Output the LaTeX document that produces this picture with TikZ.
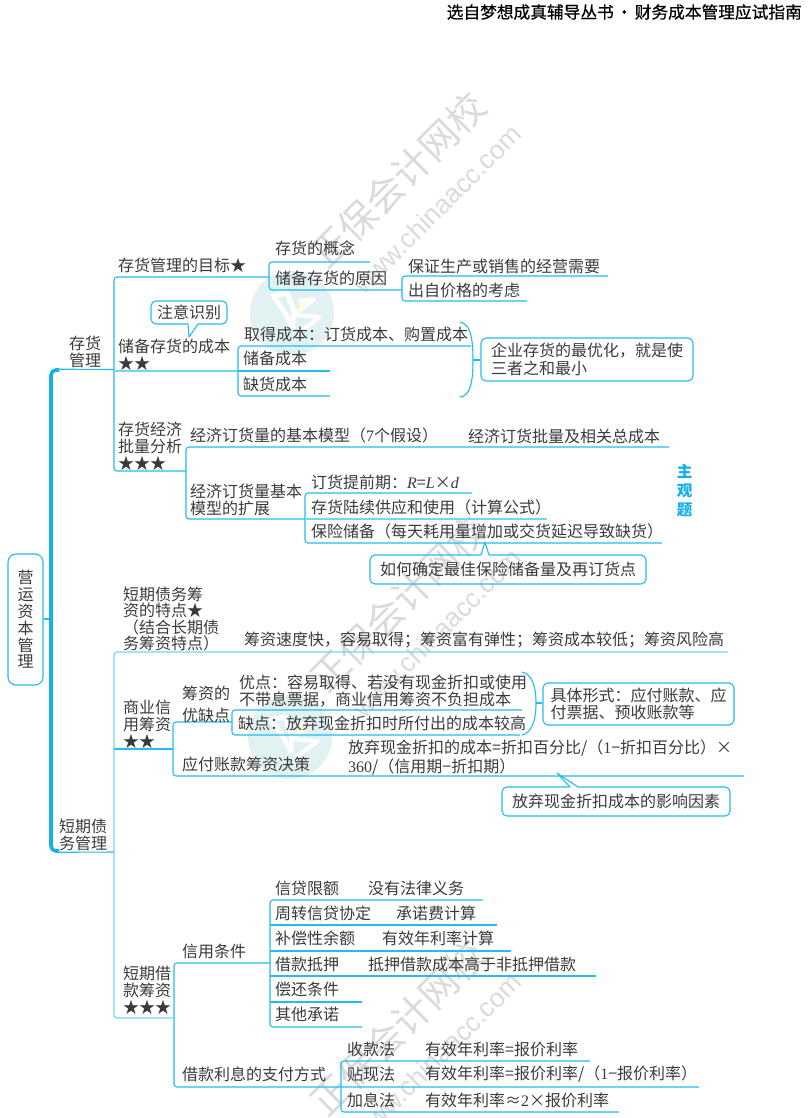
\documentclass[tikz,border=0pt]{standalone}
\usepackage{fontspec}
\setmainfont{Noto Sans CJK SC}
\newfontfamily\lat{Liberation Serif}
\newfontfamily\wmlat{Liberation Sans}
\newfontfamily\headf[FakeBold=0.6]{Noto Sans CJK SC}
\definecolor{ln}{HTML}{22BDEE}
\definecolor{lnl}{HTML}{70D7F6}
\definecolor{tx}{HTML}{3A3A3A}
\definecolor{wm}{HTML}{DADADA}
\definecolor{logoc}{HTML}{E2F1F1}
\definecolor{cy}{HTML}{10B0EC}
\newcommand{\num}[1]{{\lat #1}}
\newcommand{\logoat}[2]{%
  \fill[logoc] (#1,#2) circle (42);
  \begin{scope}[shift={(#1,#2)}]
    \draw[white,line width=5,line join=round] (-19,-17) -- (-5,-20) -- (2,-2) -- (1,15) -- (-8,-2) -- cycle;
    \draw[white,line width=4,line join=round] (6,-12) -- (22,-14) -- (2,2) -- (28,4) -- (6,20);
    \fill[yellow!15] (8,-10) -- (18,-12) -- (6,0) -- cycle;
  \end{scope}}
\newcommand{\wmark}[1]{%
  \begin{scope}[shift={(0,#1)}]
    \node[wmc,font=\fontsize{38}{38}\selectfont,rotate=45] (wmA#1) at (398,180) {正保会计网校};
    \node[wmc,font=\wmlat\fontsize{26.5}{26.5}\selectfont,rotate=45] (wmB#1) at (437,209) {www.chinaacc.com};
  \end{scope}}
\tikzset{
  x=1pt,y=-1pt,
  wmc/.style={text=wm,inner sep=0},
  lk/.style={draw=ln,line width=1.1,line join=round},
  lkl/.style={draw=lnl,line width=1.3},
  brk/.style={lk,rounded corners=3},
  brkl/.style={lkl,rounded corners=3},
  txt/.style={anchor=west,inner sep=0,align=left,text=tx,font=\fontsize{16}{17.2}\selectfont},
  boxn/.style={draw=ln,line width=1.1,rounded corners=5,inner sep=0},
}
\begin{document}
\begin{tikzpicture}
\useasboundingbox (0,0) rectangle (807,1118);
% watermark
\logoat{292}{313}\logoat{290}{737}\logoat{290}{1160}
\wmark{0}\wmark{424}\wmark{848}
% header
\node[anchor=east,inner sep=0,text=black,font=\headf\fontsize{16.7}{17}\selectfont] (head) at (802,12) {选自梦想成真辅导丛书\makebox[21pt]{·}财务成本管理应试指南};
% root and trunk
\node[boxn,rounded corners=8,minimum width=35,minimum height=131,text=tx,align=center,font=\fontsize{16}{16.8}\selectfont] (root) at (25.5,619.5) {营\\运\\资\\本\\管\\理};
\coordinate (tr) at (50,619);
\draw[lk] (root.east |- tr) -- (tr);
\coordinate (tT) at (114,369.5); \coordinate (tB) at (114,852);
\draw[cy!85!ln,line width=3.6,rounded corners=5] (59,370) -- (51,370) -- (51,851) -- (59,851);
\draw[lk] (57,369.2) -- (tT);
\draw[lk] (57,852.3) -- (tB);
% ---------- inventory branch
\node[txt,align=center] (n1) at (69,352) {存货\\管理};
\coordinate (a1) at (114,277); \coordinate (a2) at (114,371); \coordinate (a3) at (114,471);
\coordinate (a1e) at (269,277); \coordinate (a2e) at (238,371); \coordinate (a3e) at (186,471);
\draw[brk] (a1e) -- (a1) -- (a3) -- (a3e);
\draw[lkl] (a2) -- (a2e);
\node[txt] (t1) at (118,265) {存货管理的目标★};
\node[txt] (t1a) at (275,248) {存货的概念};
\node[txt] (t1b) at (275,278) {储备存货的原因};
\coordinate (b1) at (370,262); \coordinate (b2) at (402,290);
\draw[brk] (b1) -- (269,262) -- (269,290) -- (b2);
\coordinate (c1) at (608,276); \coordinate (c2) at (527,301);
\draw[brk] (c1) -- (402,276) -- (402,301) -- (c2);
\node[txt] (t1c) at (408,266) {保证生产或销售的经营需要};
\node[txt] (t1d) at (408,290) {出自价格的考虑};
% reserve cost
\node[txt] (t2) at (118,355) {储备存货的成本\\★★};
\node[boxn,minimum width=76,minimum height=23,text=tx,font=\fontsize{16}{17}\selectfont] (note) at (189,312.5) {注意识别};
\coordinate (nl) at (188,324); \coordinate (nr) at (198,324); \coordinate (nt) at (189,337);
\draw[white,line width=1.6] (nl) -- (nr);
\draw[lk] (nl) -- (nt) -- (nr);
\coordinate (d1) at (471,346); \coordinate (d2) at (330,371); \coordinate (d3) at (330,396);
\draw[brk] (d1) -- (238,346) -- (238,396) -- (d3);
\draw[lk] (238,371) -- (d2);
\node[txt] (t2a) at (244,334) {取得成本：订货成本、购置成本};
\node[txt] (t2b) at (243,358) {储备成本};
\node[txt] (t2c) at (243,384) {缺货成本};
\coordinate (bA) at (460,322); \coordinate (bB) at (460,397); \coordinate (bM) at (473,360);
\draw[lk] (bA) .. controls (469,324) and (473,334) .. (bM) .. controls (473,386) and (469,396) .. (bB);
\node[boxn,minimum width=212,minimum height=43,text=tx,align=left,font=\fontsize{16}{18.5}\selectfont] (opt) at (587,359.5) {企业存货的最优化，就是使\\三者之和最小};
\draw[lk] (bM) -- (opt.west |- bM);
% EOQ
\node[txt] (t3) at (118,446) {存货经济\\批量分析\\★★★};
\coordinate (e1) at (669,447); \coordinate (e2) at (305,519);
\draw[brk] (e1) -- (186,447) -- (186,519) -- (e2);
\node[txt] (t3a) at (190,435) {经济订货量的基本模型（\num{7}个假设）};
\node[txt] (t3b) at (468,436) {经济订货批量及相关总成本};
\node[txt] (t3c) at (190,500) {经济订货量基本\\模型的扩展};
\coordinate (f1) at (472,493); \coordinate (f2) at (547,519); \coordinate (f3) at (662,543);
\draw[brk] (f1) -- (305,493) -- (305,543) -- (f3);
\draw[lkl] (305,519) -- (f2);
\node[txt] (t3d) at (311,482) {订货提前期：{\lat\itshape R}={\lat\itshape L}×{\lat\itshape d}};
\node[txt] (t3e) at (311,507) {存货陆续供应和使用（计算公式）};
\node[txt] (t3f) at (311,531) {保险储备（每天耗用量增加或交货延迟导致缺货）};
\node[boxn,minimum width=276,minimum height=29,text=tx,font=\fontsize{16}{17}\selectfont] (safe) at (508,569.5) {如何确定最佳保险储备量及再订货点};
\coordinate (sl) at (481,555); \coordinate (sr) at (489,555); \coordinate (st) at (485,542);
\draw[white,line width=1.6] (sl) -- (sr);
\draw[lk] (sl) -- (st) -- (sr);
\node[anchor=center,inner sep=0,align=center,text=cy,font=\bfseries\fontsize{15.5}{19}\selectfont] (zg) at (684.5,491) {主\\观\\题};
% ---------- short-term debt branch
\node[txt,align=left] (n2) at (59,835) {短期债\\务管理};
\coordinate (g1) at (114,652); \coordinate (g2) at (114,749); \coordinate (g3) at (114,1018);
\coordinate (g1e) at (728,652); \coordinate (g2e) at (173,749); \coordinate (g3e) at (173,1018);
\draw[brkl] (g1e) -- (g1) -- (g3) -- (g3e);
\draw[lk] (g2) -- (g2e);
\node[txt,font=\fontsize{16}{16.2}\selectfont] (t4) at (123,619) {短期债务筹\\资的特点★\\（结合长期债\\务筹资特点）};
\node[txt] (t4a) at (244,640) {筹资速度快，容易取得；筹资富有弹性；筹资成本较低；筹资风险高};
\node[txt] (t5) at (123,724) {商业信\\用筹资\\★★};
\coordinate (h1) at (232,722); \coordinate (h2) at (744,776);
\draw[brk] (h1) -- (173,722) -- (173,776) -- (h2);
\node[txt,font=\fontsize{16}{22}\selectfont] (t5a) at (182,704.5) {筹资的\\优缺点};
\node[txt] (t5b) at (182,764) {应付账款筹资决策};
\coordinate (i1) at (522,710); \coordinate (i2) at (520,735);
\draw[brk] (i1) -- (232,710) -- (232,735) -- (i2);
\node[txt] (t5c) at (239,691) {优点：容易取得、若没有现金折扣或使用\\不带息票据，商业信用筹资不负担成本};
\node[txt] (t5d) at (238,723) {缺点：放弃现金折扣时所付出的成本较高};
\coordinate (jA) at (522,672); \coordinate (jB) at (522,735); \coordinate (jM) at (536,703);
\draw[lk] (jA) .. controls (531,674) and (536,684) .. (jM) .. controls (536,722) and (531,733) .. (jB);
\node[boxn,minimum width=191,minimum height=42,text=tx,align=left,font=\fontsize{16}{17.2}\selectfont] (form) at (638.5,704) {具体形式：应付账款、应\\付票据、预收账款等};
\draw[lk] (jM) -- (form.west |- jM);
\node[txt,font=\fontsize{16}{19}\selectfont] (t5e) at (348,757.5) {放弃现金折扣的成本=折扣百分比/（\num{1}−折扣百分比）×\\\num{360}/（信用期−折扣期）};
\node[boxn,minimum width=228,minimum height=29,text=tx,font=\fontsize{16}{17}\selectfont] (why) at (616,801.5) {放弃现金折扣成本的影响因素};
\coordinate (wl) at (570,787); \coordinate (wr) at (578,787); \coordinate (wt) at (557,773);
\draw[white,line width=1.6] (wl) -- (wr);
\draw[lk] (wl) -- (wt) -- (wr);
% short-term loans
\node[txt] (t6) at (123,990) {短期借\\款筹资\\★★★};
\coordinate (k1) at (270,963); \coordinate (k2) at (699,1087);
\draw[brk] (k1) -- (174,963) -- (174,1087) -- (k2);
\node[txt] (t6a) at (182,951) {信用条件};
\coordinate (m1) at (483,900); \coordinate (m2) at (497,925); \coordinate (m3) at (511,951);
\coordinate (m4) at (596,976); \coordinate (m5) at (362,1002); \coordinate (m6) at (362,1027);
\draw[brk] (m1) -- (270,900) -- (270,1027) -- (m6);
\draw[lk] (270,925) -- (m2);
\draw[lk] (270,951) -- (m3);
\draw[lk] (270,976) -- (m4);
\draw[lk] (270,1002) -- (m5);
\node[txt] (u1) at (275,888) {信贷限额};
\node[txt] (v1) at (368,888) {没有法律义务};
\node[txt] (u2) at (275,913) {周转信贷协定};
\node[txt] (v2) at (396,913) {承诺费计算};
\node[txt] (u3) at (275,938) {补偿性余额};
\node[txt] (v3) at (382,938) {有效年利率计算};
\node[txt] (u4) at (275,964) {借款抵押};
\node[txt] (v4) at (368,964) {抵押借款成本高于非抵押借款};
\node[txt] (u5) at (275,989) {偿还条件};
\node[txt] (u6) at (275,1014) {其他承诺};
\node[txt] (t6b) at (182,1074) {借款利息的支付方式};
\coordinate (p1) at (590,1061); \coordinate (p3) at (619,1112);
\draw[brk] (p1) -- (341,1061) -- (341,1112) -- (p3);
\node[txt] (w1) at (347,1049) {收款法};
\node[txt] (x1) at (425,1049) {有效年利率=报价利率};
\node[txt] (w2) at (347,1074) {贴现法};
\node[txt] (x2) at (425,1074) {有效年利率=报价利率/（\num{1}−报价利率）};
\node[txt] (w3) at (347,1100) {加息法};
\node[txt] (x3) at (425,1100) {有效年利率≈\num{2}×报价利率};
\end{tikzpicture}
\end{document}
